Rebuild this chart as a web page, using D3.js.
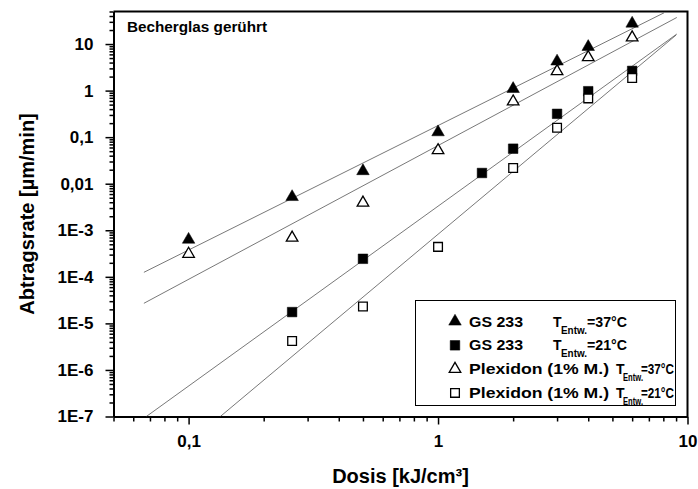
<!DOCTYPE html>
<html>
<head>
<meta charset="utf-8">
<title>Abtragsrate vs Dosis</title>
<script src="https://cdn.jsdelivr.net/npm/d3@7"></script>
<style>
  body { margin: 0; background: #fff; }
  text { font-family: Arial, "Liberation Sans", sans-serif; font-weight: bold; }
</style>
</head>
<body>
<div id="chart"></div>
<script>
// ---- data ----
var seriesNames = ["GS 233", "GS 233", "Plexidon (1% M.)", "Plexidon (1% M.)"];
var seriesTemps = ["=37°C", "=21°C", "=37°C", "=21°C"];

var doseGS37 = [0.1, 0.26, 0.5, 1, 2, 3, 4, 6];
var rateGS37 = [6.3e-4, 5.2e-3, 0.0187, 0.128, 1.09, 4.24, 8.7, 27.6];
var doseGS21 = [0.26, 0.5, 1.5, 2, 3, 4, 6];
var rateGS21 = [1.75e-5, 2.44e-4, 0.017, 0.0565, 0.317, 0.97, 2.65];
var dosePl37 = [0.1, 0.26, 0.5, 1, 2, 3, 4, 6];
var ratePl37 = [3.1e-4, 6.9e-4, 3.9e-3, 0.052, 0.58, 2.6, 5.2, 13.8];
var dosePl21 = [0.26, 0.5, 1, 2, 3, 4, 6];
var ratePl21 = [4.2e-6, 2.3e-5, 4.4e-4, 0.0217, 0.159, 0.68, 1.87];

// fit lines, start and end point [dose, rate]
var fitGS37 = [[0.0662, 1.25e-4], [8.05, 46.8]];
var fitPl37 = [[0.0662, 2.7e-5], [9.06, 37.2]];
var fitGS21 = [[0.0677, 1e-7], [9.06, 16.4]];
var fitPl21 = [[0.134, 1e-7], [9.0, 15.6]];

var xTickValues = [0.1, 1, 10];
var xTickLabels = ["0,1", "1", "10"];
var yTickValues = [1e-7, 1e-6, 1e-5, 1e-4, 1e-3, 0.01, 0.1, 1, 10];
var yTickLabels = ["1E-7", "1E-6", "1E-5", "1E-4", "1E-3", "0,01", "0,1", "1", "10"];

// ---- layout ----
var width = 698, height = 489;
var pLeft = 113.5, pRight = 687.5, pTop = 11.5, pBottom = 416.5;

var svg = d3.select("#chart").append("svg")
    .attr("width", width).attr("height", height);
svg.append("rect").attr("width", width).attr("height", height).attr("fill", "#fff");

var x = d3.scaleLog().domain([0.05, 10]).range([pLeft, pRight]);
var y = d3.scaleLog().domain([1e-7, 50]).range([pBottom, pTop]);

// clip
svg.append("clipPath").attr("id", "plotclip")
  .append("rect").attr("x", pLeft).attr("y", pTop)
  .attr("width", pRight - pLeft).attr("height", pBottom - pTop);

// minor ticks
function notMajor(majors) {
    return function (d) {
        return majors.every(function (v) { return Math.abs(v - d) / v > 1e-6; });
    };
}
var xMinor = x.ticks().filter(notMajor(xTickValues));
var yMinor = y.ticks().filter(notMajor(yTickValues));

var gx = svg.append("g").attr("transform", "translate(0," + pBottom + ")");
gx.call(d3.axisBottom(x).tickValues(xMinor).tickSize(5).tickSizeOuter(0).tickFormat(""));
gx.append("g").call(d3.axisBottom(x).tickValues(xTickValues).tickSize(8).tickSizeOuter(0)
    .tickPadding(10).tickFormat(function (d, i) { return xTickLabels[i]; }));

var gy = svg.append("g").attr("transform", "translate(" + pLeft + ",0)");
gy.call(d3.axisLeft(y).tickValues(yMinor).tickSize(4).tickSizeOuter(0).tickFormat(""));
gy.append("g").call(d3.axisLeft(y).tickValues(yTickValues).tickSize(8).tickSizeOuter(0)
    .tickPadding(12).tickFormat(function (d, i) { return yTickLabels[i]; }));

svg.selectAll(".domain").attr("stroke", "#000").attr("stroke-width", 2);
svg.selectAll(".tick line").attr("stroke", "#000").attr("stroke-width", 1.5);
svg.selectAll(".tick text").attr("fill", "#000")
    .style("font-size", "17px").style("font-family", "Arial, 'Liberation Sans', sans-serif")
    .style("font-weight", "bold");

// top and right border
svg.append("path")
    .attr("d", "M" + pLeft + "," + pTop + "H" + pRight + "V" + pBottom)
    .attr("fill", "none").attr("stroke", "#000").attr("stroke-width", 2);

// fit lines
var line = d3.line().x(function (d) { return x(d[0]); }).y(function (d) { return y(d[1]); });
var plot = svg.append("g").attr("clip-path", "url(#plotclip)");
[fitGS37, fitPl37, fitGS21, fitPl21].forEach(function (f) {
    plot.append("path").attr("d", line(f))
        .attr("fill", "none").attr("stroke", "#555").attr("stroke-width", 0.8);
});

// markers
var triFilled = d3.symbol().type(d3.symbolTriangle).size(68)();
var sqFilled = d3.symbol().type(d3.symbolSquare).size(92)();
var triOpen = d3.symbol().type(d3.symbolTriangle).size(58)();
var sqOpen = d3.symbol().type(d3.symbolSquare).size(76)();

var series = [
    { dose: doseGS37, rate: rateGS37, path: triFilled, fill: "#000" },
    { dose: doseGS21, rate: rateGS21, path: sqFilled, fill: "#000" },
    { dose: dosePl37, rate: ratePl37, path: triOpen, fill: "#fff" },
    { dose: dosePl21, rate: ratePl21, path: sqOpen, fill: "#fff" }
];

series.forEach(function (s) {
    svg.append("g").selectAll("path")
        .data(s.dose)
        .enter().append("path")
        .attr("d", s.path)
        .attr("transform", function (d, i) {
            return "translate(" + x(d) + "," + y(s.rate[i]) + ")";
        })
        .attr("fill", s.fill)
        .attr("stroke", "#000")
        .attr("stroke-width", s.fill == "#000" ? 0.5 : 1.3);
});

// titles
svg.append("text").attr("x", (pLeft + pRight) / 2).attr("y", 483)
    .attr("text-anchor", "middle").style("font-size", "20px").text("Dosis [kJ/cm³]");
svg.append("text").attr("transform", "translate(34," + (pTop + pBottom) / 2 + ") rotate(-90)")
    .attr("text-anchor", "middle").style("font-size", "20px").text("Abtragsrate [µm/min]");
svg.append("text").attr("x", 127).attr("y", 32).style("font-size", "14px")
    .attr("textLength", 140).attr("lengthAdjust", "spacingAndGlyphs")
    .text("Becherglas gerührt");

// legend
var legX = 415.5, legY = 300.5, legW = 260, legH = 105;
svg.append("rect").attr("x", legX).attr("y", legY).attr("width", legW).attr("height", legH)
    .attr("fill", "#fff").attr("stroke", "#000").attr("stroke-width", 1);

var rowY = [321.5, 345.3, 369.1, 392.9];
var nameW = [54, 54, 140, 140];
var tX = [553, 553, 616, 616];
var subX = [561, 561, 623, 623];
var subW = [26, 26, 20, 20];
var eqX = [587, 587, 641, 641];
var eqW = [40, 40, 33, 33];

series.forEach(function (s, i) {
    var by = rowY[i] + 5;
    svg.append("path").attr("d", s.path)
        .attr("transform", "translate(455," + rowY[i] + ")")
        .attr("fill", s.fill).attr("stroke", "#000")
        .attr("stroke-width", s.fill == "#000" ? 0.5 : 1.3);
    svg.append("text").attr("x", 469).attr("y", by).style("font-size", "14px")
        .attr("textLength", nameW[i]).attr("lengthAdjust", "spacingAndGlyphs")
        .text(seriesNames[i]);
    svg.append("text").attr("x", tX[i]).attr("y", by).style("font-size", "14px").text("T");
    svg.append("text").attr("x", subX[i]).attr("y", by + 7).style("font-size", "10px")
        .attr("textLength", subW[i]).attr("lengthAdjust", "spacingAndGlyphs").text("Entw.");
    svg.append("text").attr("x", eqX[i]).attr("y", by).style("font-size", "14px")
        .attr("textLength", eqW[i]).attr("lengthAdjust", "spacingAndGlyphs")
        .text(seriesTemps[i]);
});
</script>
</body>
</html>
